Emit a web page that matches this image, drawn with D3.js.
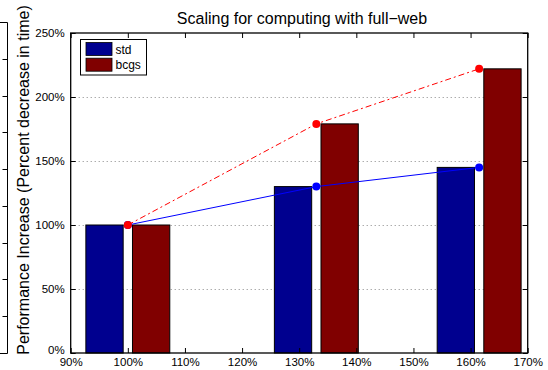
<!DOCTYPE html>
<html><head><meta charset="utf-8">
<script src="https://cdn.jsdelivr.net/npm/d3@7"></script>
<style>
html,body{margin:0;padding:0;background:#fff;}
svg{display:block;font-family:"Liberation Sans",Arial,Helvetica,sans-serif;}
</style></head>
<body>
<svg id="c" width="548" height="370"></svg>
<script>
// ---- data ----
const groups = [1.00, 1.33, 1.615];          // x positions (ratio)
const seriesNames = ["std", "bcgs"];
const stdValues = [100, 130, 145];           // % performance
const bcgsValues = [100, 179, 222];
const xTickValues = [0.9, 1.0, 1.1, 1.2, 1.3, 1.4, 1.5, 1.6, 1.7];
const yTickValues = [0, 50, 100, 150, 200, 250];
const titleText = "Scaling for computing with full\u2212web";
const yLabelText = "Performance Increase (Percent decrease in time)";

// ---- layout ----
const L = 70.7, R = 527.7, T = 33, B = 353;
const svg = d3.select("#c");
const x = d3.scaleLinear().domain([0.9, 1.7]).range([L, R]);
const y = d3.scaleLinear().domain([0, 250]).range([B, T]);
const colors = {std: "#00008f", bcgs: "#800000"};
const lineColors = {std: "#0000ff", bcgs: "#ff0000"};
const barW = 0.0653, barOff = 0.0408;
const fmtX = d => Math.round(d * 100) + "%";
const fmtY = d => d + "%";
const FS = 11.5;

// partial neighbouring axes at far left
const ly = d3.scaleLinear().domain([0, 9]).range([353, 22]);
const g0 = svg.append("g");
g0.append("path").attr("d", `M0,22.5H7.5V353.5H0`).attr("fill", "none").attr("stroke", "#000");
g0.selectAll("line.t").data(d3.range(1, 9)).join("line")
  .attr("x1", 2.5).attr("x2", 7.5).attr("y1", d => Math.round(ly(d)) + 0.5).attr("y2", d => Math.round(ly(d)) + 0.5)
  .attr("stroke", "#000");

// grid
svg.append("g").selectAll("line").data(yTickValues.filter(v => v > 0 && v < 250)).join("line")
  .attr("x1", L).attr("x2", R)
  .attr("y1", d => Math.round(y(d)) + 0.5).attr("y2", d => Math.round(y(d)) + 0.5)
  .attr("stroke", "#888").attr("stroke-dasharray", "1,3");

// bars
const series = [stdValues, bcgsValues];
series.forEach((vals, si) => {
  const name = seriesNames[si];
  const off = si === 0 ? -barOff : barOff;
  svg.append("g").selectAll("rect").data(vals).join("rect")
    .attr("x", (d, i) => x(groups[i] + off - barW / 2))
    .attr("width", x(barW) - x(0))
    .attr("y", d => y(d))
    .attr("height", d => y(0) - y(d))
    .attr("fill", colors[name]).attr("stroke", "#000").attr("stroke-width", 1);
});

// lines + dots
series.forEach((vals, si) => {
  const name = seriesNames[si];
  const pts = vals.map((v, i) => [x(groups[i]), y(v)]);
  svg.append("path").attr("d", d3.line()(pts)).attr("fill", "none")
    .attr("stroke", lineColors[name]).attr("stroke-width", 1)
    .attr("stroke-dasharray", si === 1 ? "6,3,2,3" : null);
  svg.append("g").selectAll("circle").data(pts).join("circle")
    .attr("cx", d => d[0]).attr("cy", d => d[1]).attr("r", 4)
    .attr("fill", lineColors[name]);
});

// axes box
svg.append("rect").attr("x", L).attr("y", T).attr("width", R - L).attr("height", B - T)
  .attr("fill", "none").attr("stroke", "#000").attr("stroke-width", 1.3);

// axes (ticks inside)
const axB = d3.axisBottom(x).tickValues(xTickValues).tickFormat(fmtX).tickSizeInner(-5).tickSizeOuter(0).tickPadding(5);
const axT = d3.axisTop(x).tickValues(xTickValues).tickFormat("").tickSizeInner(-5).tickSizeOuter(0);
const axL = d3.axisLeft(y).tickValues(yTickValues).tickFormat(fmtY).tickSizeInner(-5).tickSizeOuter(0).tickPadding(6);
const axR = d3.axisRight(y).tickValues(yTickValues).tickFormat("").tickSizeInner(-5).tickSizeOuter(0);
function style(g) {
  g.select(".domain").remove();
  g.selectAll("line").attr("stroke", "#000");
  g.selectAll("text").attr("fill", "#000").attr("font-size", FS).attr("font-family", "Liberation Sans, Arial, sans-serif");
}
svg.append("g").attr("transform", `translate(0,${B})`).call(axB).call(style);
svg.append("g").attr("transform", `translate(0,${T})`).call(axT).call(style);
svg.append("g").attr("transform", `translate(${L},0)`).call(axL).call(style)
  .selectAll("text").attr("dy", d => d === 0 ? "0.0em" : "0.32em");
svg.append("g").attr("transform", `translate(${R},0)`).call(axR).call(style);

// title
svg.append("text").attr("x", 302).attr("y", 24).attr("text-anchor", "middle")
  .attr("font-size", 16).text(titleText);

// y label
svg.append("text").attr("transform", `translate(29,180) rotate(-90)`)
  .attr("text-anchor", "middle").attr("font-size", 16).text(yLabelText);

// legend
const lg = svg.append("g");
lg.append("rect").attr("x", 80.5).attr("y", 39.5).attr("width", 66).attr("height", 35.5)
  .attr("fill", "#fff").attr("stroke", "#000");
seriesNames.forEach((n, i) => {
  lg.append("rect").attr("x", 86).attr("y", 42.5 + i * 15.7).attr("width", 26).attr("height", 13)
    .attr("fill", colors[n]).attr("stroke", "#000").attr("stroke-width", 0.8);
  lg.append("text").attr("x", 115.5).attr("y", 53.5 + i * 15.7).attr("font-size", 12).text(n);
});
</script>
</body></html>
